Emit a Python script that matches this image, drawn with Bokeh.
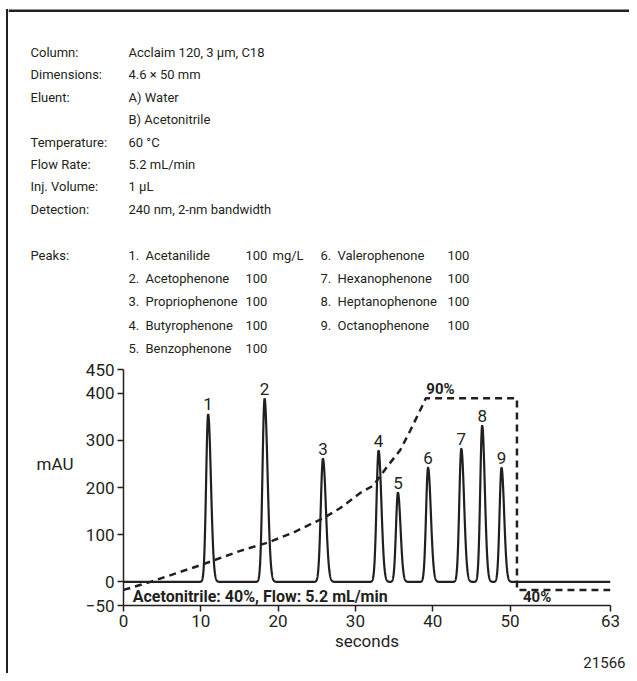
import numpy as np
from bokeh.plotting import figure
from bokeh.layouts import column, row
from bokeh.models import FixedTicker, Range1d, ColumnDataSource, LinearAxis, Title, Div
from bokeh.core.properties import value
from bokeh.embed import file_html
from bokeh.resources import INLINE

# ---------------- data ----------------
peak_ids = ["1", "2", "3", "4", "5", "6", "7", "8", "9"]
peak_times = [10.95, 18.25, 25.8, 33.0, 35.5, 39.4, 43.7, 46.4, 48.9]     # seconds
peak_heights = [355, 388, 261, 278, 189, 242, 282, 331, 242]             # mAU
peak_sigma_front = [0.26, 0.27, 0.28, 0.27, 0.25, 0.26, 0.26, 0.25, 0.25]
peak_sigma_tail = [0.36, 0.38, 0.38, 0.36, 0.34, 0.36, 0.36, 0.34, 0.34]

grad_time = [0, 3.5, 10, 15.1, 18.6, 22, 25.9, 28, 30.7, 32.3, 34.2, 35.8, 37.1, 38.7, 39.1, 50.9, 50.9, 63]
grad_pct = [40, 42.1, 46.5, 50.2, 52.3, 55, 58.8, 61.3, 65.4, 67.2, 72.4, 76.5, 81.6, 88.2, 90, 90, 40, 40]

x_ticks = [0, 10, 20, 30, 40, 50, 63]
y_ticks = [-50, 0, 100, 200, 300, 400, 450]

header_keys = ["Column:", "Dimensions:", "Eluent:", "", "Temperature:", "Flow Rate:", "Inj. Volume:", "Detection:"]
header_vals = ["Acclaim 120, 3 \u03bcm, C18", "4.6 \u00d7 50 mm", "A) Water", "B) Acetonitrile",
               "60 \u00b0C", "5.2 mL/min", "1 \u03bcL", "240 nm, 2-nm bandwidth"]

peak_names = ["Acetanilide", "Acetophenone", "Propriophenone", "Butyrophenone", "Benzophenone",
              "Valerophenone", "Hexanophenone", "Heptanophenone", "Octanophenone"]
peak_conc = ["100", "100", "100", "100", "100", "100", "100", "100", "100"]
conc_unit = "mg/L"

# ---------------- trace ----------------
t = np.linspace(0, 63, 5000)
signal = np.zeros_like(t)
for tr, h, sf, st in zip(peak_times, peak_heights, peak_sigma_front, peak_sigma_tail):
    s = np.where(t < tr, sf, st)
    signal += h * np.exp(-0.5 * ((t - tr) / s) ** 2)

FONT = "Roboto"
INK = "#231f20"
W, H = 629, 673
X0 = 8            # left edge of the figures (after the border strip)
HEAD_H = 358
PX_PER_MAU = 0.472


def txt(f, xs, ys, texts, size="13px", style="normal", align="left", baseline="middle"):
    f.text(x=xs, y=ys, text=texts, text_font=value(FONT), text_font_size=value(size),
           text_font_style=style, text_align=align, text_baseline=baseline, text_color=INK)


# ---------------- left border strip ----------------
border = Div(text="", width=2, height=H - 9, margin=(9, 0, 0, 6),
             styles={"background-color": INK})

# ---------------- header ----------------
head = figure(width=W - X0, height=HEAD_H, x_range=Range1d(X0, W), y_range=Range1d(HEAD_H, 0),
              output_backend="svg", toolbar_location=None, x_axis_type=None, y_axis_type=None,
              min_border=0)
head.outline_line_color = None
head.quad(left=[X0], right=[W], top=[9], bottom=[11.5], fill_color=INK, line_color=None)

row0, dy = 52, 22.4
ks = [(k, row0 + i * dy) for i, k in enumerate(header_keys) if k]
txt(head, [30] * len(ks), [y for _, y in ks], [k for k, _ in ks])
txt(head, [128] * len(header_vals), [row0 + i * dy for i in range(len(header_vals))], header_vals)

prow0, pdy = 255, 23.2
txt(head, [30], [prow0], ["Peaks:"])
nx, ny, nt = [], [], []
for i in range(9):
    col = 0 if i < 5 else 1
    r = i if i < 5 else i - 5
    xb = 128 if col == 0 else 320
    xc = 245 if col == 0 else 447
    yy = prow0 + r * pdy
    nx += [xb, xb + 17, xc]
    ny += [yy, yy, yy]
    nt += [f"{i + 1}.", peak_names[i], peak_conc[i]]
nx.append(272)
ny.append(prow0)
nt.append(conc_unit)
txt(head, nx, ny, nt)

# ---------------- chart ----------------
p = figure(width=W - X0, height=H - HEAD_H, output_backend="svg", toolbar_location=None,
           x_range=Range1d(0, 63), y_range=Range1d(-50, 450),
           min_border_left=123 - X0, min_border_right=W - 610, min_border_top=11, min_border_bottom=68)
p.outline_line_color = None
p.xgrid.visible = False
p.ygrid.visible = False

mau_per_pct = (389 - (-17)) / 50.0
p.extra_y_ranges = {"pct": Range1d(40 - (-17 + 50) / mau_per_pct, 90 + (450 - 389) / mau_per_pct)}

p.line(t, signal, line_color=INK, line_width=2.2)
p.line(grad_time, grad_pct, y_range_name="pct", line_color=INK, line_width=2.5, line_dash="7 5")

# peak numbers: sit a few pixels above each apex
label_y = [h + 10 / PX_PER_MAU for h in peak_heights]
src = ColumnDataSource(dict(x=peak_times, y=label_y, t=peak_ids))
p.text(x="x", y="y", text="t", source=src, text_align="center", text_baseline="alphabetic",
       text_font=value(FONT), text_font_size=value("17px"), text_color=INK)

for ax in (p.xaxis[0], p.yaxis[0]):
    ax.axis_line_color = INK
    ax.axis_line_width = 1.5
    ax.major_tick_line_color = INK
    ax.major_tick_line_width = 1.5
    ax.major_tick_out = 6
    ax.major_tick_in = 0
    ax.minor_tick_line_color = None
    ax.major_label_text_font = FONT
    ax.major_label_text_font_size = "17px"
    ax.major_label_text_color = INK
p.xaxis[0].ticker = FixedTicker(ticks=x_ticks)
p.yaxis[0].ticker = FixedTicker(ticks=y_ticks)
p.xaxis[0].major_label_standoff = 3
p.yaxis[0].major_label_standoff = 3
p.xaxis[0].axis_label = "seconds"
p.xaxis[0].axis_label_text_font = FONT
p.xaxis[0].axis_label_text_font_size = "17px"
p.xaxis[0].axis_label_text_font_style = "normal"
p.xaxis[0].axis_label_text_color = INK
p.xaxis[0].axis_label_standoff = 1

# "mAU" label on a label-only axis (two empty lines lift it to the reference height)
mau_axis = LinearAxis(ticker=FixedTicker(ticks=[]), axis_line_color=None,
                      major_tick_line_color=None, minor_tick_line_color=None,
                      major_label_text_color=None, axis_label="mAU\n\n",
                      axis_label_orientation="horizontal", axis_label_standoff=9,
                      axis_label_text_font=FONT, axis_label_text_font_size="17px",
                      axis_label_text_font_style="normal", axis_label_text_color=INK)
p.add_layout(mau_axis, "left")

# figure number below, right aligned
p.add_layout(Title(text="21566", align="right", offset=-15, standoff=3, text_font=FONT,
                   text_font_size="15px", text_font_style="normal", text_color=INK), "below")

# annotations inside the plot frame (data coordinates)
p.text(x=[1.2], y=[-31], text=["Acetonitrile: 40%, Flow: 5.2 mL/min"], text_font=value(FONT),
       text_font_size=value("16px"), text_font_style="bold", text_color=INK, text_baseline="middle")
p.text(x=[41.0], y=[409], text=["90%"], text_font=value(FONT), text_font_size=value("15px"),
       text_font_style="bold", text_color=INK, text_align="center", text_baseline="middle")
p.text(x=[53.5], y=[-31], text=["40%"], text_font=value(FONT), text_font_size=value("15px"),
       text_font_style="bold", text_color=INK, text_align="center", text_baseline="middle")

layout = row(border, column(head, row(p)))
open("out.html", "w").write(file_html(layout, INLINE))
